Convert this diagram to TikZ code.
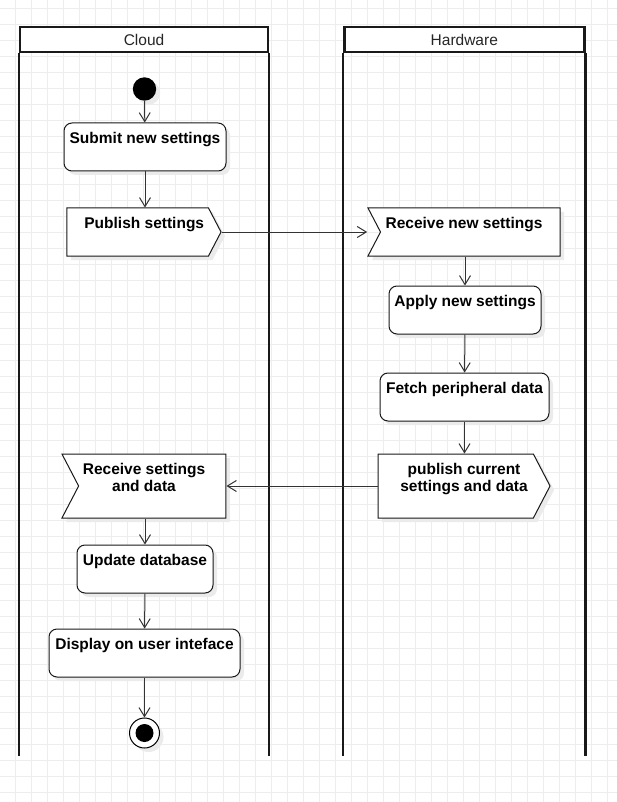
\documentclass[tikz,border=0pt]{standalone}
\usepackage{fontspec}
\setmainfont{Liberation Sans}
\usetikzlibrary{arrows.meta,shapes.symbols,shadows}
\tikzset{% open arrow tips, like the drawing tool
    >={Straight Barb[length=9pt,width=11pt]}
}
\tikzset{
    gridline/.style={draw=black!7, line width=0.8pt},
    lane/.style={draw=black!90, line width=2.4pt},
    lanehead/.style={lane, fill=white, minimum height=24.5pt, inner sep=0pt,
        font=\fontsize{15.5}{18}\selectfont, text=black!85},
    shade/.style={drop shadow={shadow xshift=4pt, shadow yshift=-4pt, fill=black!8, opacity=1}},
    toptext/.style={anchor=north, inner sep=0pt, yshift=-10pt, align=center,
        font=\bfseries\fontsize{15.5}{16.5}\selectfont},
    act/.style={draw=black!90, fill=white, line width=1pt, rounded corners=8pt,
        minimum height=48pt, inner sep=0pt, shade},
    sendsig/.style={signal, signal to=east, signal pointer angle=125, draw=black!90,
        fill=white, line width=1pt, inner sep=0pt, shade},
    recvsig/.style={signal, signal to=nowhere, signal from=west, signal pointer angle=125,
        draw=black!90, fill=white, line width=1pt, inner sep=0pt, shade},
    startdot/.style={circle, fill=black, minimum size=23.4pt, inner sep=0pt, shade},
    enddot/.style={circle, draw=black, fill=white, line width=1pt, minimum size=30pt,
        inner sep=0pt, shade,
        path picture={\fill[black] (path picture bounding box.center) circle (9pt);}},
    flow/.style={->, draw=black!80, line width=1pt}
}

\begin{document}
\begin{tikzpicture}[x=1pt,y=-1pt]
    \newcommand{\cloudx}{144.5}
    \newcommand{\hardx}{464.5}

    % page and grid
    \useasboundingbox[fill=white] (0,0) rectangle (617,802);
    \foreach \gx in {0,...,37}
        \draw[gridline] (15+16*\gx,0) -- (15+16*\gx,802);
    \foreach \gy in {0,...,49}
        \draw[gridline] (0,8.7+16*\gy) -- (617,8.7+16*\gy);

    % lanes
    \node[lanehead, minimum width=248pt] (cloud) at (144,39.5) {Cloud};
    \node[lanehead, minimum width=240pt] (hard) at (464.3,39.5) {Hardware};
    \draw[lane] (cloud.south west) -- (cloud.south west |- 0,756);
    \draw[lane] (cloud.south east) -- (cloud.south east |- 0,756);
    \draw[lane] (hard.south west) -- (hard.south west |- 0,756);
    \draw[lane] (hard.south east) -- (hard.south east |- 0,756);

    % cloud side
    \node[startdot] (start) at (\cloudx,89) {};
    \node[act, minimum width=162pt, label={[toptext]north:Submit new settings}] (submit) at (145,147) {};
    \node[sendsig, minimum width=154pt, minimum height=48pt, label={[toptext, xshift=6.5pt]north:Publish settings}] (publish) at (137.75,232) {};

    % hardware side
    \node[recvsig, minimum width=192pt, minimum height=48pt, label={[toptext, xshift=-6.25pt]north:Receive new settings}] (recv) at (470.25,232) {};
    \node[act, minimum width=152pt, label={[toptext]north:Apply new settings}] (apply) at (465,310) {};
    \node[act, minimum width=169pt, label={[toptext]north:Fetch peripheral data}] (fetch) at (\hardx,397) {};
    \node[sendsig, minimum width=172pt, minimum height=64pt, label={[toptext, xshift=8.3pt]north:{publish current\\settings and data}}] (pcur) at (455.7,486) {};

    % back to the cloud
    \node[recvsig, minimum width=164pt, minimum height=64pt, label={[toptext, xshift=-8.3pt]north:{Receive settings\\and data}}] (rcv2) at (152.3,486) {};
    \node[act, minimum width=136pt, label={[toptext]north:Update database}] (update) at (145,569) {};
    \node[act, minimum width=191pt, label={[toptext]north:Display on user inteface}] (display) at (\cloudx,653) {};
    \node[enddot] (end) at (\cloudx,733) {};

    % flows
    \draw[flow] (start) -- (submit);
    \draw[flow] (submit) -- (submit |- publish.north);
    \draw[flow] (publish.east) -- (publish.east -| recv.north west);
    \draw[flow] (apply |- recv.south) -- (apply);
    \draw[flow] (apply) -- (fetch);
    \draw[flow] (fetch) -- (fetch |- pcur.north);
    \draw[flow] (pcur.west) -- (rcv2.east);
    \draw[flow] (update |- rcv2.south) -- (update);
    \draw[flow] (update) -- (display);
    \draw[flow] (display) -- (end);
\end{tikzpicture}
\end{document}
